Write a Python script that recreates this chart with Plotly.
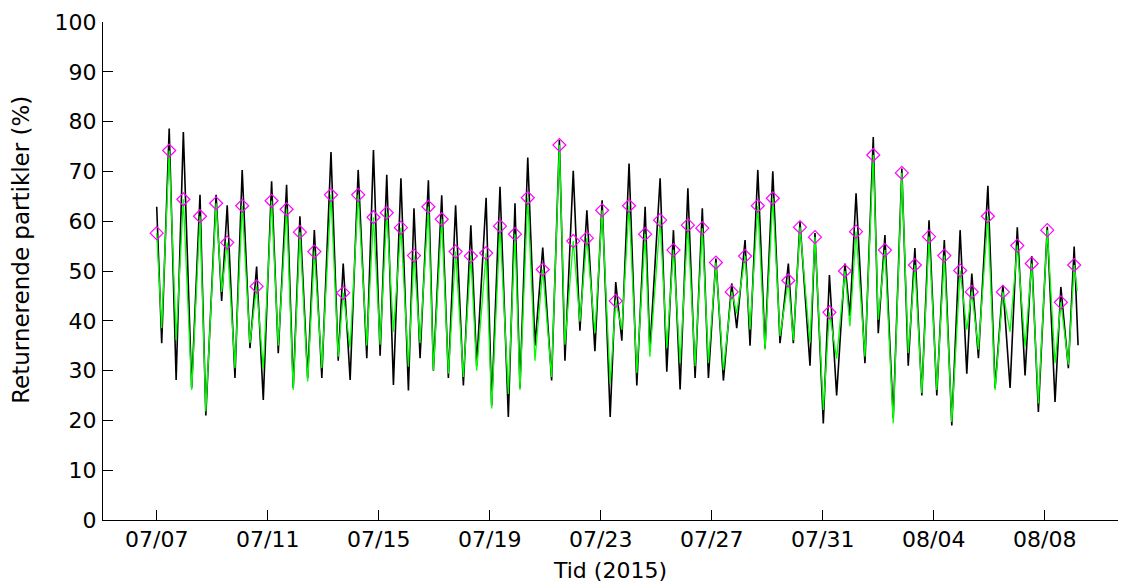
import pandas as pd
import plotly.graph_objects as go

START = pd.Timestamp("2015-07-07 00:00")

# Peak (diamond) times, in days after 07/07 00:00, and values (%)
peak_days = [0.00, 0.45, 0.96, 1.56, 2.14, 2.54, 3.08, 3.60, 4.14, 4.68,
             5.16, 5.68, 6.28, 6.72, 7.26, 7.81, 8.29, 8.80, 9.27, 9.79,
             10.27, 10.77, 11.32, 11.87, 12.37, 12.91, 13.37, 13.91, 14.51, 15.01,
             15.50, 16.05, 16.54, 17.02, 17.60, 18.14, 18.62, 19.14, 19.66, 20.15,
             20.72, 21.20, 21.66, 22.20, 22.76, 23.18, 23.72, 24.24, 24.80, 25.20,
             25.82, 26.24, 26.85, 27.32, 27.83, 28.38, 28.95, 29.37, 29.95, 30.49,
             31.01, 31.53, 32.09, 32.58, 33.06]
peak_vals = [57.6, 74.2, 64.4, 61.0, 63.6, 55.7, 63.1, 46.9, 64.1, 62.4,
             57.8, 53.9, 65.3, 45.6, 65.3, 60.8, 61.7, 58.7, 53.1, 62.9,
             60.4, 53.9, 53.0, 53.6, 59.0, 57.4, 64.7, 50.3, 75.3, 56.0,
             56.6, 62.2, 44.0, 63.1, 57.4, 60.2, 54.2, 59.2, 58.6, 51.7,
             45.8, 53.0, 63.1, 64.6, 48.1, 58.8, 56.8, 41.7, 50.0, 57.9,
             73.3, 54.2, 69.7, 51.2, 56.9, 53.1, 50.1, 45.8, 61.0, 45.8,
             55.1, 51.5, 58.2, 43.7, 51.2]

# Trough times (days) and smoothed (green) trough values
trough_days = [0.18, 0.70, 1.26, 1.77, 2.34, 2.82, 3.36, 3.84, 4.38, 4.92,
               5.44, 5.95, 6.54, 6.97, 7.57, 8.05, 8.53, 9.07, 9.49, 9.97,
               10.51, 11.05, 11.53, 12.07, 12.67, 13.09, 13.63, 14.23, 14.71, 15.25,
               15.79, 16.34, 16.76, 17.30, 17.77, 18.38, 18.86, 19.40, 19.88, 20.42,
               20.90, 21.38, 21.92, 22.46, 22.94, 23.54, 24.02, 24.50, 24.98, 25.52,
               26.00, 26.54, 27.08, 27.57, 28.11, 28.65, 29.19, 29.61, 30.21, 30.75,
               31.29, 31.77, 32.37, 32.85]
green_trough = [38.5, 36.1, 26.1, 21.8, 45.8, 30.5, 35.5, 30.3, 35.0, 26.1,
                27.8, 30.5, 32.8, 34.5, 35.0, 35.2, 37.8, 30.8, 35.5, 30.1,
                29.4, 28.7, 30.0, 22.4, 25.3, 26.1, 32.0, 28.7, 35.2, 39.8,
                37.5, 27.4, 38.2, 29.5, 32.8, 34.5, 31.5, 30.9, 31.5, 30.1,
                41.5, 38.2, 34.2, 36.9, 36.1, 35.5, 22.1, 32.4, 38.9, 32.8,
                40.2, 19.4, 33.5, 25.5, 26.1, 19.7, 38.2, 34.2, 26.1, 37.8,
                34.8, 23.4, 31.5, 31.2]

# Raw (black) extremes: spike tops near each peak, dips near each trough
black_top = [62.9, 78.6, 77.9, 65.3, 65.3, 63.2, 70.3, 50.9, 68.0, 67.3,
             61.0, 58.2, 73.9, 51.5, 70.3, 74.3, 69.3, 68.6, 62.6, 68.2,
             65.2, 63.2, 59.2, 64.7, 66.9, 63.6, 72.8, 54.7, 76.3, 70.1,
             62.2, 64.2, 47.8, 71.6, 62.9, 68.6, 58.2, 66.6, 62.6, 52.5,
             47.5, 56.2, 70.3, 70.0, 51.5, 59.9, 57.6, 49.2, 51.5, 65.6,
             76.9, 57.2, 70.6, 54.6, 60.2, 56.2, 58.2, 49.5, 67.1, 47.2,
             58.8, 53.0, 58.9, 46.8, 54.9]
black_bottom = [35.5, 28.1, 26.5, 21.0, 44.0, 28.5, 34.5, 24.1, 33.5, 26.5,
                28.5, 28.5, 32.0, 28.1, 32.5, 33.0, 27.1, 26.0, 32.5, 30.0,
                28.5, 27.0, 31.0, 23.0, 20.7, 26.5, 35.0, 28.0, 32.0, 38.0,
                33.9, 20.7, 36.0, 27.0, 34.0, 29.8, 26.2, 28.5, 28.5, 28.0,
                38.5, 35.0, 34.5, 35.5, 35.5, 31.0, 19.4, 25.0, 41.0, 31.5,
                37.5, 20.5, 31.0, 25.0, 25.0, 19.0, 29.4, 32.5, 26.5, 26.5,
                29.0, 21.7, 23.7, 30.5]
end_day = 33.20
black_end = 35.1
green_end = 46.0

tick_dates = ["2015-07-07", "2015-07-11", "2015-07-15", "2015-07-19", "2015-07-23",
              "2015-07-27", "2015-07-31", "2015-08-04", "2015-08-08"]
tick_labels = ["07/07", "07/11", "07/15", "07/19", "07/23",
               "07/27", "07/31", "08/04", "08/08"]
x_range = ["2015-07-05 01:33", "2015-08-10 15:20"]


def to_time(days):
    return [START + pd.Timedelta(days=d) for d in days]


def interleave(p_days, p_vals, t_days, t_vals):
    d, v = [], []
    for i in range(len(p_days)):
        d.append(p_days[i]); v.append(p_vals[i])
        if i < len(t_days):
            d.append(t_days[i]); v.append(t_vals[i])
    return d, v


bd, bv = interleave(peak_days, black_top, trough_days, black_bottom)
bd.append(end_day); bv.append(black_end)
gd, gv = interleave(peak_days, peak_vals, trough_days, green_trough)
gd.append(end_day - 0.03); gv.append(green_end)

fig = go.Figure()
fig.add_trace(go.Scatter(x=to_time(bd), y=bv, mode="lines",
                         line=dict(color="#000000", width=1.6), showlegend=False))
fig.add_trace(go.Scatter(x=to_time(gd), y=gv, mode="lines",
                         line=dict(color="#00FF00", width=1.3), showlegend=False))
fig.add_trace(go.Scatter(x=to_time(peak_days), y=peak_vals, mode="markers",
                         marker=dict(symbol="diamond-open", size=10, color="#FF00FF",
                                     line=dict(width=1.2, color="#FF00FF")),
                         showlegend=False))

FONT = "DejaVu Sans"
fig.update_layout(
    width=1124, height=583,
    margin=dict(l=103, r=6, t=22, b=63, pad=0),
    paper_bgcolor="white", plot_bgcolor="white",
    font=dict(family=FONT, size=22, color="#000000"),
    annotations=[dict(text="Returnerende partikler (%)", textangle=-90,
                      xref="paper", yref="paper", x=-0.081, y=0.542,
                      xanchor="center", yanchor="middle", showarrow=False,
                      font=dict(family=FONT, size=23, color="black"))],
)
fig.update_xaxes(
    type="date", range=x_range,
    tickvals=tick_dates, ticktext=tick_labels,
    ticks="inside", ticklen=10, tickwidth=1, tickcolor="black",
    showline=True, linecolor="black", linewidth=1, mirror=False,
    showgrid=False, zeroline=False,
    tickfont=dict(family=FONT, size=22, color="black"),
    ticklabelstandoff=0,
    title=dict(text="Tid (2015)", font=dict(family=FONT, size=22, color="black"),
               standoff=12),
    automargin=False,
)
fig.update_yaxes(
    range=[0, 100], tickmode="linear", tick0=0, dtick=10,
    ticks="inside", ticklen=10, tickwidth=1, tickcolor="black",
    showline=True, linecolor="black", linewidth=1, mirror=False,
    showgrid=False, zeroline=False,
    tickfont=dict(family=FONT, size=22, color="black"),
    ticklabelstandoff=1,
    automargin=False,
)

fig.write_html("out.html")
